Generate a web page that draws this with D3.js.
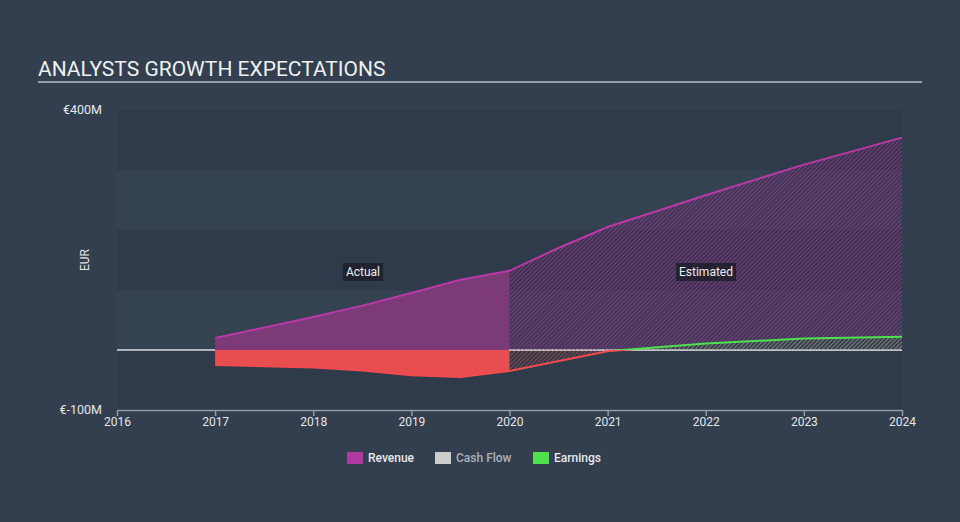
<!DOCTYPE html>
<html><head><meta charset="utf-8">
<script src="https://cdn.jsdelivr.net/npm/d3@7"></script>
<style>
html,body{margin:0;padding:0;background:#333f4f;}
svg{display:block;font-family:Roboto,"Open Sans",sans-serif;}
</style></head>
<body>
<svg id="c" width="960" height="522"></svg>
<script>
const years = [2016, 2017, 2018, 2019, 2020, 2021, 2022, 2023, 2024];
const yTicks = [400, -100];
const revenueActual = [[2017,20],[2018,55],[2018.5,74],[2019,95],[2019.5,117],[2020,132]];
const revenueEstimated = [[2020,132],[2020.5,170],[2021,205],[2022,258],[2023,309],[2024,354]];
const earningsActual = [[2017,-25],[2018,-29],[2018.5,-34],[2019,-42],[2019.5,-45],[2020,-35]];
const earningsEstimated = [[2020,-35],[2021,-2],[2022,11],[2023,19],[2024,22]];
const legendItems = [["Revenue","#b03aa0","#e8e8e8"],["Cash Flow","#cccccc","#a9b0b9"],["Earnings","#4fe04f","#e8e8e8"]];

const svg = d3.select("#c");
const W=960,H=522;
svg.append("rect").attr("width",W).attr("height",H).attr("fill","#333f4f");

const x = d3.scaleLinear().domain([2016,2024]).range([117,902]);
const y = d3.scaleLinear().domain([-100,400]).range([410,110]);

// bands
const bands = svg.append("g");
[-100,0,100,200,300].forEach((v,i)=>{
  const dark = (i%2===0);
  bands.append("rect").attr("x",x(2016)).attr("width",x(2024)-x(2016))
    .attr("y",y(v+100)).attr("height",y(v)-y(v+100))
    .attr("fill", dark ? "#2f3b4a" : "#344252");
});

// title
svg.append("text").attr("x",38).attr("y",76).attr("fill","#eef0f2")
  .attr("font-size",21).text("ANALYSTS GROWTH EXPECTATIONS");
svg.append("line").attr("x1",38).attr("x2",922).attr("y1",82).attr("y2",82)
  .attr("stroke","#b8bec6").attr("stroke-width",1.5);

// defs: patterns and clips
const defs = svg.append("defs");
function hatch(id,color,bg){
  const p = defs.append("pattern").attr("id",id).attr("patternUnits","userSpaceOnUse")
    .attr("width",3).attr("height",3).attr("patternTransform","rotate(45)");
  if(bg) p.append("rect").attr("width",3).attr("height",3).attr("fill",bg);
  p.append("line").attr("x1",0).attr("y1",0).attr("x2",0).attr("y2",3)
    .attr("stroke",color).attr("stroke-width",1.3);
}
hatch("hRev","#9a3c96","rgba(80,40,90,0.35)");
hatch("hRed","#c04848");
hatch("hGreen","#4fb44f");
defs.append("clipPath").attr("id","above").append("rect")
  .attr("x",0).attr("y",0).attr("width",W).attr("height",y(0));
defs.append("clipPath").attr("id","below").append("rect")
  .attr("x",0).attr("y",y(0)).attr("width",W).attr("height",H-y(0));

// zero line
svg.append("line").attr("x1",x(2016)).attr("x2",x(2024)).attr("y1",y(0)).attr("y2",y(0))
  .attr("stroke","#dcdcdc").attr("stroke-width",1.5);

const area = d3.area().x(d=>x(d[0])).y0(y(0)).y1(d=>y(d[1]));
const line = d3.line().x(d=>x(d[0])).y(d=>y(d[1]));

// actual revenue
svg.append("path").attr("d",area(revenueActual)).attr("fill","#7d3a78");
// estimated revenue
svg.append("path").attr("d",area(revenueEstimated)).attr("fill","url(#hRev)");

// actual earnings
svg.append("path").attr("d",area(earningsActual)).attr("fill","#e84e50").attr("clip-path","url(#below)");
svg.append("path").attr("d",area(earningsActual)).attr("fill","#4fe04f").attr("clip-path","url(#above)");
// estimated earnings
svg.append("path").attr("d",area(earningsEstimated)).attr("fill","url(#hRed)").attr("clip-path","url(#below)");
svg.append("path").attr("d",area(earningsEstimated)).attr("fill","url(#hGreen)").attr("clip-path","url(#above)");

// dashed zero over estimated region
svg.append("line").attr("x1",x(2020)).attr("x2",x(2024)).attr("y1",y(0)).attr("y2",y(0))
  .attr("stroke","#e0e0e0").attr("stroke-width",1).attr("stroke-dasharray","2,1");

// lines
const revAll = revenueActual.concat(revenueEstimated.slice(1));
svg.append("path").attr("d",line(revAll)).attr("fill","none").attr("stroke","#b83aa6").attr("stroke-width",2);
const earnAll = earningsActual.concat(earningsEstimated.slice(1));
svg.append("path").attr("d",line(earnAll)).attr("fill","none").attr("stroke","#f04c50").attr("stroke-width",2).attr("clip-path","url(#below)");
svg.append("path").attr("d",line(earnAll)).attr("fill","none").attr("stroke","#4fe04f").attr("stroke-width",2).attr("clip-path","url(#above)");

// x axis
const xa = svg.append("g").attr("transform",`translate(0,${y(-100)})`)
  .call(d3.axisBottom(x).tickValues(years).tickFormat(d3.format("d")).tickSize(6).tickSizeOuter(0));
xa.select(".domain").attr("stroke","#8f9cab").attr("stroke-width",1.5);
xa.selectAll(".tick line").attr("stroke","#8f9cab").attr("stroke-width",1.5);
xa.selectAll(".tick text").attr("fill","#e4e6e9").attr("font-size",12).attr("dy","0.55em")
  .attr("font-family","Roboto,sans-serif");

// y labels
yTicks.forEach(v=>{
  svg.append("text").attr("x",102).attr("y",y(v)+4).attr("text-anchor","end")
    .attr("fill","#e4e6e9").attr("font-size",12.5).text("€"+v+"M");
});
svg.append("text").attr("transform",`translate(89,260) rotate(-90)`).attr("text-anchor","middle")
  .attr("fill","#e4e6e9").attr("font-size",12).text("EUR");

// Actual / Estimated labels
function tag(t,cx,cy){
  const g = svg.append("g");
  const txt = g.append("text").attr("x",cx).attr("y",cy+4).attr("text-anchor","middle")
    .attr("fill","#eeeeee").attr("font-size",12).text(t);
  const bb = txt.node().getBBox();
  g.insert("rect","text").attr("x",bb.x-3).attr("y",cy-9).attr("width",bb.width+6).attr("height",18)
    .attr("fill","#1d1f2c").attr("opacity",0.85);
}
tag("Actual",363,272);
tag("Estimated",706,272);

// legend
const lg = svg.append("g");
const gaps = [347,435,533];
legendItems.forEach((d,i)=>{
  const gx = gaps[i];
  lg.append("rect").attr("x",gx).attr("y",452).attr("width",16).attr("height",12).attr("fill",d[1]);
  lg.append("text").attr("x",gx+21).attr("y",462).attr("fill",d[2]).attr("font-size",12)
    .attr("font-weight",500).text(d[0]);
});
</script>
</body></html>
